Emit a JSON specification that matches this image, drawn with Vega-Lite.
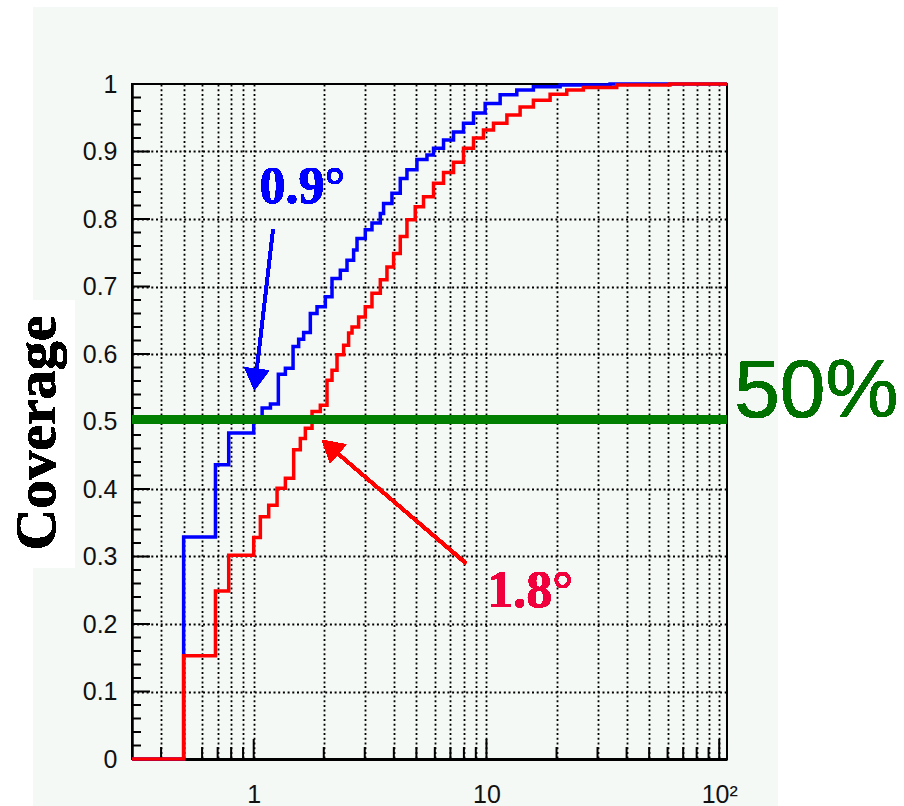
{
  "$schema": "https://vega.github.io/schema/vega-lite/v6.json",
  "width": 595,
  "height": 675,
  "autosize": {"type": "none"},
  "padding": {"left": 132, "top": 84, "right": 177, "bottom": 47},
  "background": "#f5f9f6",
  "config": {"view": {"stroke": "#000000", "strokeWidth": 2}, "font": "Liberation Sans"},
  "datasets": {
    "xticks": [
      {"v": 0.4}, {"v": 0.5}, {"v": 0.6}, {"v": 0.7}, {"v": 0.8}, {"v": 0.9}, {"v": 1},
      {"v": 2}, {"v": 3}, {"v": 4}, {"v": 5}, {"v": 6}, {"v": 7}, {"v": 8}, {"v": 9}, {"v": 10},
      {"v": 20}, {"v": 30}, {"v": 40}, {"v": 50}, {"v": 60}, {"v": 70}, {"v": 80}, {"v": 90}, {"v": 100}
    ],
    "yticks": [
      {"v": 0.02}, {"v": 0.04}, {"v": 0.06}, {"v": 0.08}, {"v": 0.1},
      {"v": 0.12}, {"v": 0.14}, {"v": 0.16}, {"v": 0.18}, {"v": 0.2},
      {"v": 0.22}, {"v": 0.24}, {"v": 0.26}, {"v": 0.28}, {"v": 0.3},
      {"v": 0.32}, {"v": 0.34}, {"v": 0.36}, {"v": 0.38}, {"v": 0.4},
      {"v": 0.42}, {"v": 0.44}, {"v": 0.46}, {"v": 0.48}, {"v": 0.5},
      {"v": 0.52}, {"v": 0.54}, {"v": 0.56}, {"v": 0.58}, {"v": 0.6},
      {"v": 0.62}, {"v": 0.64}, {"v": 0.66}, {"v": 0.68}, {"v": 0.7},
      {"v": 0.72}, {"v": 0.74}, {"v": 0.76}, {"v": 0.78}, {"v": 0.8},
      {"v": 0.82}, {"v": 0.84}, {"v": 0.86}, {"v": 0.88}, {"v": 0.9},
      {"v": 0.92}, {"v": 0.94}, {"v": 0.96}, {"v": 0.98}
    ],
    "curves": [
      {"s": "blue", "x": 0.3, "y": 0},
      {"s": "blue", "x": 0.5, "y": 0.329},
      {"s": "blue", "x": 0.685, "y": 0.436},
      {"s": "blue", "x": 0.781, "y": 0.483},
      {"s": "blue", "x": 1.0, "y": 0.505},
      {"s": "blue", "x": 1.087, "y": 0.52},
      {"s": "blue", "x": 1.18, "y": 0.526},
      {"s": "blue", "x": 1.276, "y": 0.57},
      {"s": "blue", "x": 1.368, "y": 0.579},
      {"s": "blue", "x": 1.476, "y": 0.611},
      {"s": "blue", "x": 1.56, "y": 0.622},
      {"s": "blue", "x": 1.639, "y": 0.632},
      {"s": "blue", "x": 1.751, "y": 0.66},
      {"s": "blue", "x": 1.871, "y": 0.67},
      {"s": "blue", "x": 2.031, "y": 0.685},
      {"s": "blue", "x": 2.17, "y": 0.712},
      {"s": "blue", "x": 2.356, "y": 0.724},
      {"s": "blue", "x": 2.517, "y": 0.739},
      {"s": "blue", "x": 2.687, "y": 0.754},
      {"s": "blue", "x": 2.779, "y": 0.771},
      {"s": "blue", "x": 3.016, "y": 0.784},
      {"s": "blue", "x": 3.222, "y": 0.794},
      {"s": "blue", "x": 3.499, "y": 0.808},
      {"s": "blue", "x": 3.614, "y": 0.823},
      {"s": "blue", "x": 3.926, "y": 0.838},
      {"s": "blue", "x": 4.263, "y": 0.86},
      {"s": "blue", "x": 4.554, "y": 0.873},
      {"s": "blue", "x": 5.026, "y": 0.888},
      {"s": "blue", "x": 5.551, "y": 0.895},
      {"s": "blue", "x": 5.923, "y": 0.905},
      {"s": "blue", "x": 6.54, "y": 0.917},
      {"s": "blue", "x": 7.22, "y": 0.929},
      {"s": "blue", "x": 7.968, "y": 0.942},
      {"s": "blue", "x": 8.797, "y": 0.957},
      {"s": "blue", "x": 9.872, "y": 0.971},
      {"s": "blue", "x": 11.45, "y": 0.984},
      {"s": "blue", "x": 13.5, "y": 0.991},
      {"s": "blue", "x": 15.91, "y": 0.996},
      {"s": "blue", "x": 20.72, "y": 0.9985},
      {"s": "blue", "x": 33.96, "y": 1.0},
      {"s": "blue", "x": 108, "y": 1.0},
      {"s": "red", "x": 0.3, "y": 0},
      {"s": "red", "x": 0.5, "y": 0.153},
      {"s": "red", "x": 0.685, "y": 0.249},
      {"s": "red", "x": 0.781, "y": 0.302},
      {"s": "red", "x": 1.0, "y": 0.328},
      {"s": "red", "x": 1.068, "y": 0.359},
      {"s": "red", "x": 1.16, "y": 0.376},
      {"s": "red", "x": 1.26, "y": 0.401},
      {"s": "red", "x": 1.368, "y": 0.416},
      {"s": "red", "x": 1.485, "y": 0.458},
      {"s": "red", "x": 1.586, "y": 0.475},
      {"s": "red", "x": 1.667, "y": 0.49},
      {"s": "red", "x": 1.781, "y": 0.515},
      {"s": "red", "x": 1.933, "y": 0.524},
      {"s": "red", "x": 2.065, "y": 0.561},
      {"s": "red", "x": 2.17, "y": 0.576},
      {"s": "red", "x": 2.28, "y": 0.599},
      {"s": "red", "x": 2.434, "y": 0.613},
      {"s": "red", "x": 2.557, "y": 0.631},
      {"s": "red", "x": 2.645, "y": 0.64},
      {"s": "red", "x": 2.823, "y": 0.655},
      {"s": "red", "x": 3.016, "y": 0.67},
      {"s": "red", "x": 3.222, "y": 0.69},
      {"s": "red", "x": 3.499, "y": 0.71},
      {"s": "red", "x": 3.737, "y": 0.729},
      {"s": "red", "x": 3.99, "y": 0.749},
      {"s": "red", "x": 4.263, "y": 0.774},
      {"s": "red", "x": 4.554, "y": 0.799},
      {"s": "red", "x": 4.943, "y": 0.818},
      {"s": "red", "x": 5.365, "y": 0.833},
      {"s": "red", "x": 5.923, "y": 0.853},
      {"s": "red", "x": 6.54, "y": 0.869},
      {"s": "red", "x": 7.22, "y": 0.884},
      {"s": "red", "x": 7.968, "y": 0.905},
      {"s": "red", "x": 8.797, "y": 0.92},
      {"s": "red", "x": 9.707, "y": 0.932},
      {"s": "red", "x": 10.72, "y": 0.942},
      {"s": "red", "x": 12.24, "y": 0.954},
      {"s": "red", "x": 13.95, "y": 0.966},
      {"s": "red", "x": 15.91, "y": 0.976},
      {"s": "red", "x": 18.77, "y": 0.985},
      {"s": "red", "x": 22.13, "y": 0.991},
      {"s": "red", "x": 26.08, "y": 0.995},
      {"s": "red", "x": 36.28, "y": 0.9985},
      {"s": "red", "x": 61.4, "y": 1.0},
      {"s": "red", "x": 108, "y": 1.0}
    ]
  },
  "data": {"name": "curves"},
  "layer": [
    {
      "transform": [{"filter": "datum.s == 'blue'"}],
      "mark": {"type": "line", "interpolate": "step-after", "color": "#0000ff", "strokeWidth": 3.5},
      "encoding": {
        "x": {
          "field": "x", "type": "quantitative",
          "scale": {"type": "log", "domain": [0.3, 108], "nice": false},
          "axis": {
            "orient": "bottom",
            "title": null,
            "values": [0.4, 0.5, 0.6, 0.7, 0.8, 0.9, 1, 2, 3, 4, 5, 6, 7, 8, 9, 10, 20, 30, 40, 50, 60, 70, 80, 90, 100],
            "tickCount": 200,
            "labelExpr": "datum.value == 1 ? '1' : datum.value == 10 ? '10' : datum.value == 100 ? '10²' : ''",
            "labelOverlap": false,
            "labelFlush": false,
            "labelFont": "Liberation Sans",
            "labelFontSize": 25,
            "labelColor": "#111111",
            "labelPadding": 23,
            "ticks": false,
            "domainColor": "#000000",
            "domainWidth": 3,
            "grid": true,
            "gridColor": "#000000",
            "gridDash": [2, 2.7],
            "gridWidth": 1.8
          }
        },
        "y": {
          "field": "y", "type": "quantitative",
          "scale": {"domain": [0, 1], "nice": false},
          "axis": {
            "orient": "left",
            "title": null,
            "values": [0, 0.1, 0.2, 0.3, 0.4, 0.5, 0.6, 0.7, 0.8, 0.9, 1],
            "tickCount": 200,
            "labelExpr": "(round(datum.value * 10) / 10) + ''",
            "labelOverlap": false,
            "labelFlush": false,
            "labelFont": "Liberation Sans",
            "labelFontSize": 25,
            "labelColor": "#111111",
            "labelPadding": 15,
            "ticks": false,
            "domainColor": "#000000",
            "domainWidth": 2.5,
            "grid": true,
            "gridColor": "#000000",
            "gridDash": [2, 2.7],
            "gridWidth": 1.8,
            "gridOpacity": {"condition": {"test": "datum.value > 0.05 && datum.value < 0.95", "value": 1}, "value": 0}
          }
        }
      }
    },
    {
      "data": {"name": "xticks"},
      "transform": [{"filter": "datum.v != 1 && datum.v != 10 && datum.v != 100"}],
      "mark": {"type": "tick", "orient": "vertical", "size": 12, "thickness": 2, "yOffset": -6, "color": "#000000", "opacity": 1},
      "encoding": {"x": {"field": "v", "type": "quantitative"}, "y": {"datum": 0}}
    },
    {
      "data": {"name": "xticks"},
      "transform": [{"filter": "datum.v == 1 || datum.v == 10 || datum.v == 100"}],
      "mark": {"type": "tick", "orient": "vertical", "size": 20, "thickness": 2, "yOffset": -10, "color": "#000000", "opacity": 1},
      "encoding": {"x": {"field": "v", "type": "quantitative"}, "y": {"datum": 0}}
    },
    {
      "data": {"name": "yticks"},
      "transform": [{"filter": "abs(datum.v * 10 - round(datum.v * 10)) > 0.000001"}],
      "mark": {"type": "tick", "orient": "horizontal", "size": 9, "thickness": 2, "xOffset": 4.5, "color": "#000000", "opacity": 1},
      "encoding": {"y": {"field": "v", "type": "quantitative"}, "x": {"datum": 0.3}}
    },
    {
      "data": {"name": "yticks"},
      "transform": [{"filter": "abs(datum.v * 10 - round(datum.v * 10)) < 0.000001"}],
      "mark": {"type": "tick", "orient": "horizontal", "size": 18, "thickness": 2, "xOffset": 9, "color": "#000000", "opacity": 1},
      "encoding": {"y": {"field": "v", "type": "quantitative"}, "x": {"datum": 0.3}}
    },
    {
      "transform": [{"filter": "datum.s == 'red'"}],
      "mark": {"type": "line", "interpolate": "step-after", "color": "#ff0000", "strokeWidth": 3.5},
      "encoding": {
        "x": {"field": "x", "type": "quantitative"},
        "y": {"field": "y", "type": "quantitative"}
      }
    },
    {
      "mark": {"type": "rule", "color": "#007f00", "strokeWidth": 8},
      "encoding": {"y": {"datum": 0.503}}
    },
    {
      "mark": {"type": "rect", "fill": "#ffffff"},
      "encoding": {"x": {"datum": 178.9}, "x2": {"datum": 640}, "y": {"datum": -0.075}, "y2": {"datum": 1.13}}
    },
    {
      "mark": {"type": "rect", "fill": "#ffffff"},
      "encoding": {"x": {"datum": 0.08}, "x2": {"datum": 0.1127}, "y": {"datum": -0.075}, "y2": {"datum": 1.13}}
    },
    {
      "mark": {"type": "rect", "fill": "#ffffff"},
      "encoding": {"x": {"datum": 0.08}, "x2": {"datum": 179}, "y": {"datum": 1.114}, "y2": {"datum": 1.13}}
    },
    {
      "mark": {"type": "rect", "fill": "#ffffff"},
      "encoding": {"x": {"datum": 0.08}, "x2": {"datum": 0.1707}, "y": {"datum": 0.283}, "y2": {"datum": 0.68}}
    },
    {
      "mark": {"type": "text", "text": "Coverage", "font": "Liberation Serif", "fontWeight": "bold", "fontSize": 58, "angle": 270, "align": "center", "baseline": "alphabetic", "color": "#000000"},
      "encoding": {"x": {"datum": 0.14}, "y": {"datum": 0.483}}
    },
    {
      "mark": {"type": "text", "text": "50%", "font": "Liberation Sans", "fontSize": 82, "align": "left", "baseline": "alphabetic", "color": "#007000"},
      "encoding": {"x": {"datum": 116}, "y": {"datum": 0.507}}
    },
    {
      "mark": {"type": "rule", "color": "#0000ff", "strokeWidth": 3},
      "encoding": {"x": {"datum": 1.211}, "y": {"datum": 0.785}, "x2": {"datum": 1.019}, "y2": {"datum": 0.562}}
    },
    {
      "mark": {"type": "point", "shape": "triangle-up", "filled": true, "size": 600, "angle": 186.6, "color": "#0000ff", "opacity": 1, "strokeWidth": 0},
      "encoding": {"x": {"datum": 1.019}, "y": {"datum": 0.5622}}
    },
    {
      "mark": {"type": "rule", "color": "#ff0000", "strokeWidth": 3},
      "encoding": {"x": {"datum": 8.16}, "y": {"datum": 0.29}, "x2": {"datum": 2.129}, "y2": {"datum": 0.4624}}
    },
    {
      "mark": {"type": "point", "shape": "triangle-up", "filled": true, "size": 600, "angle": 310.6, "color": "#ff0000", "opacity": 1, "strokeWidth": 0},
      "encoding": {"x": {"datum": 2.129}, "y": {"datum": 0.4624}}
    },
    {
      "mark": {"type": "text", "text": "0.9°", "font": "Liberation Serif", "fontWeight": "bold", "fontSize": 52, "align": "left", "baseline": "alphabetic", "color": "#0000ff"},
      "encoding": {"x": {"datum": 1.058}, "y": {"datum": 0.824}}
    },
    {
      "mark": {"type": "text", "text": "1.8°", "font": "Liberation Serif", "fontWeight": "bold", "fontSize": 52, "align": "left", "baseline": "alphabetic", "color": "#f0003c"},
      "encoding": {"x": {"datum": 10.07}, "y": {"datum": 0.225}}
    }
  ]
}
